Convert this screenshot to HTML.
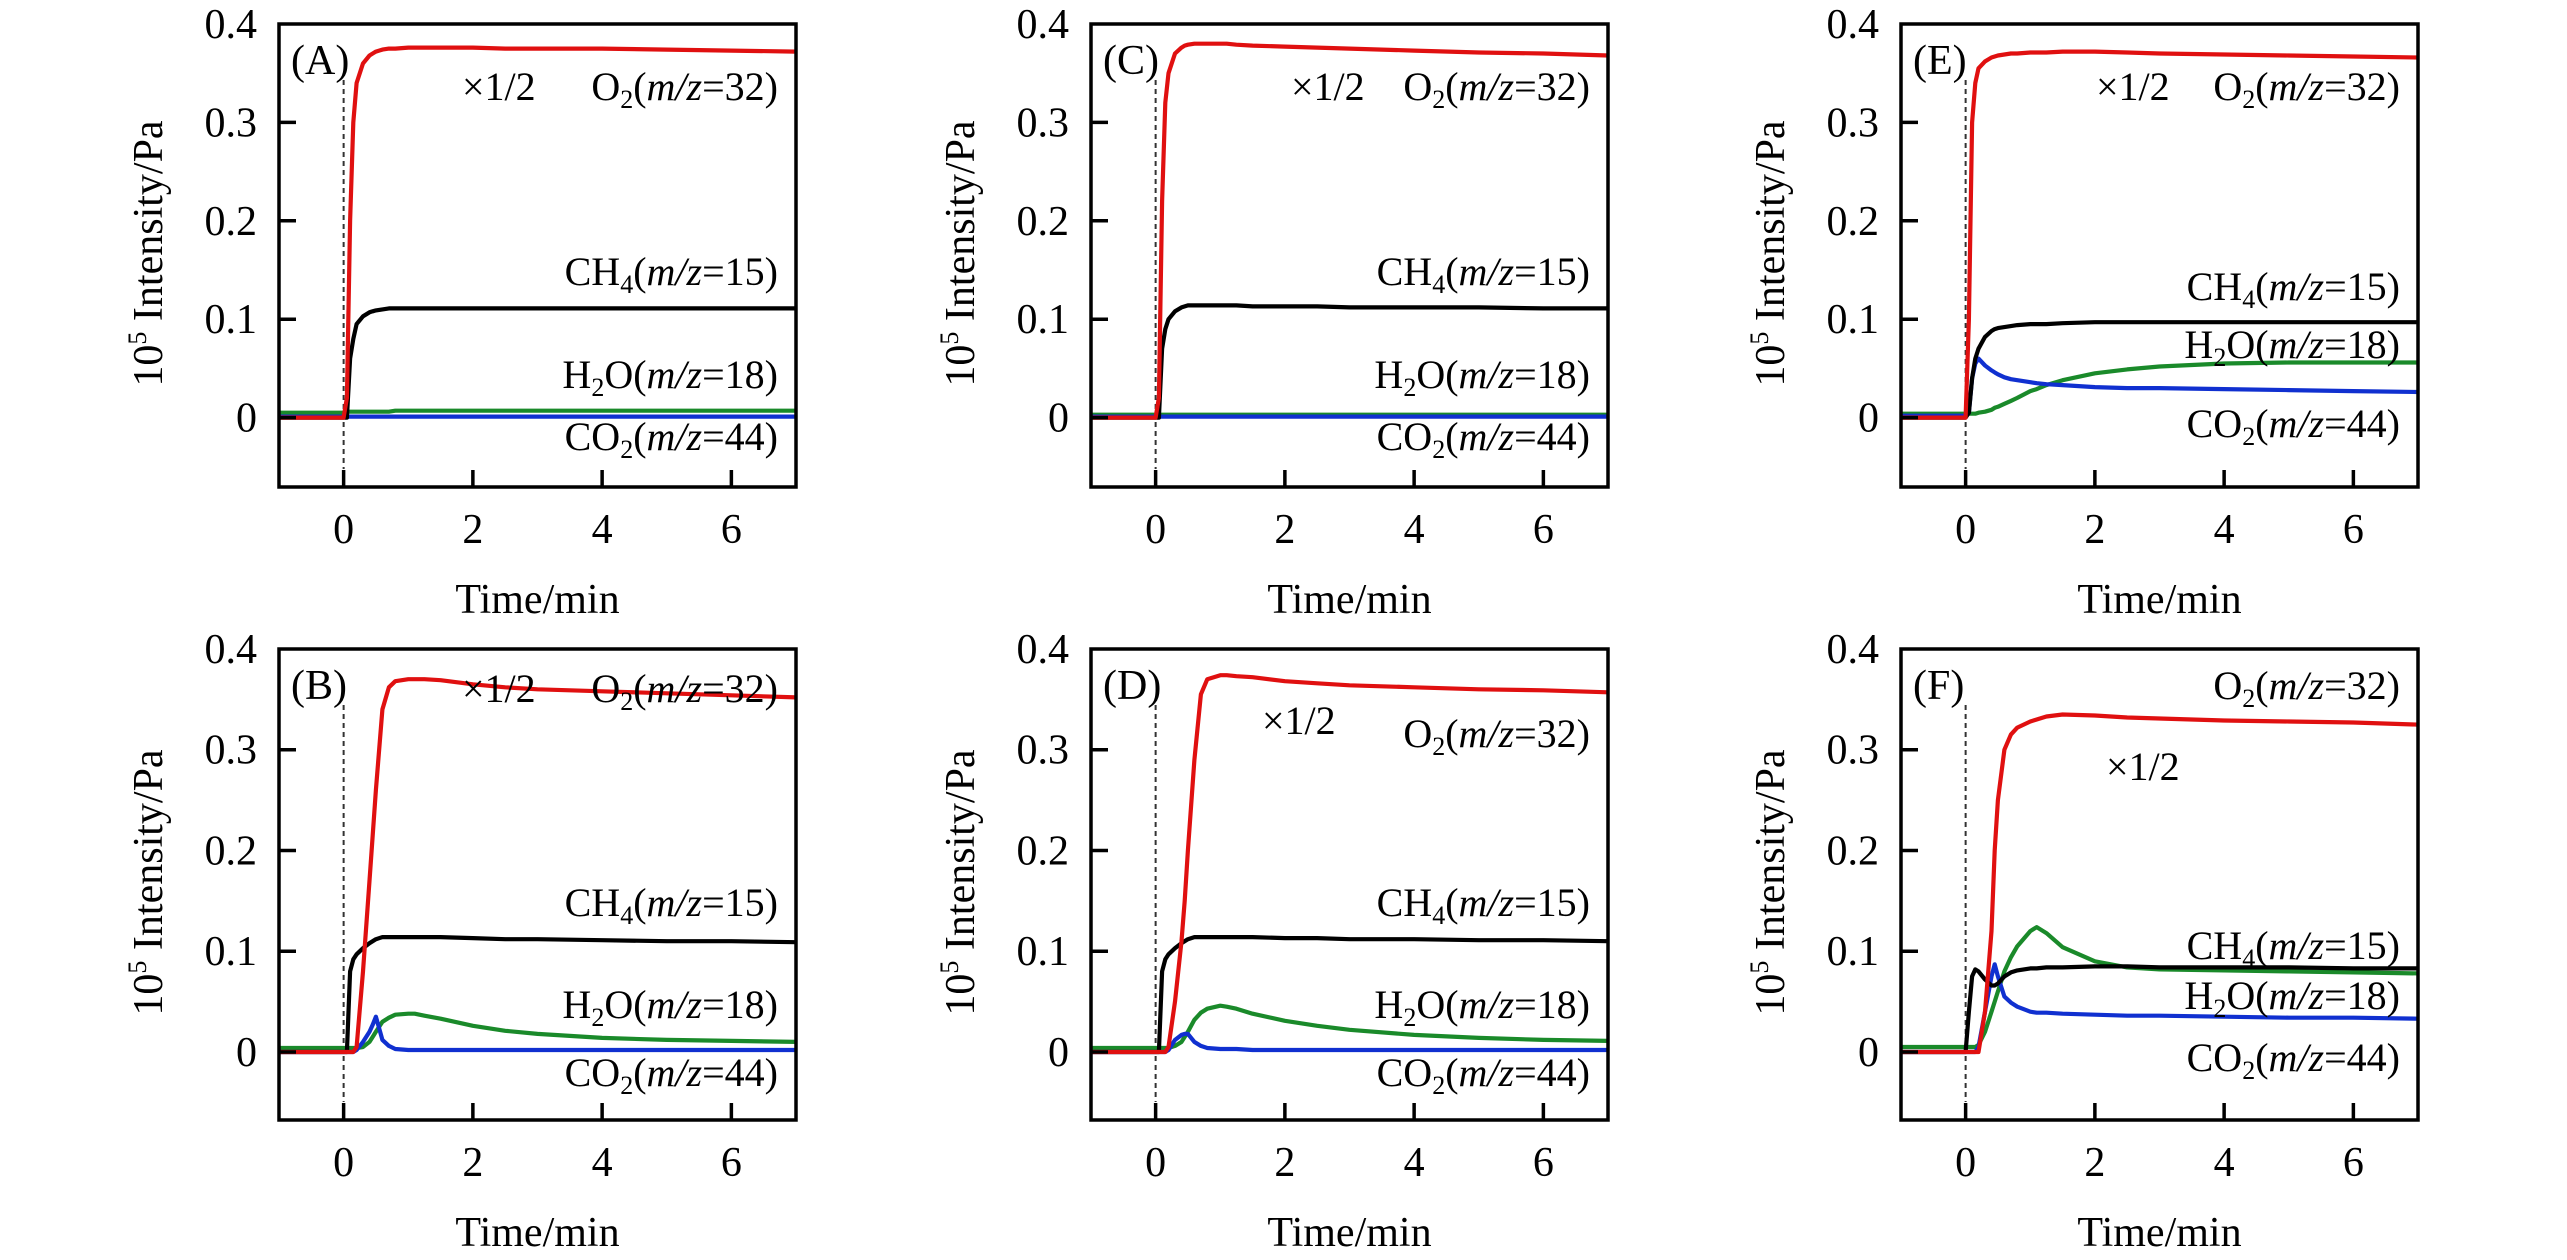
<!DOCTYPE html>
<html><head><meta charset="utf-8"><style>
html,body{margin:0;padding:0;background:#fff;}
svg{display:block;font-family:"Liberation Serif","Times New Roman",serif;}
</style></head><body>
<svg id="chart" width="2567" height="1260" viewBox="0 0 2567 1260" xmlns="http://www.w3.org/2000/svg"></svg>
<script>
// ---- data ----
const times = [-1,0,0.05,0.1,0.15,0.2,0.3,0.4,0.45,0.5,0.6,0.7,0.8,1,1.1,1.25,1.5,2,2.5,3,4,5,6,7];
const xTicks = [0,2,4,6];
const yTicks = [0,0.1,0.2,0.3,0.4];
const yTickLabels = ["0","0.1","0.2","0.3","0.4"];
const panelLetters = ["A","C","E","B","D","F"];

const A_O2  = [0,0,0.02,0.2,0.3,0.34,0.36,0.368,0.37,0.372,0.374,0.375,0.375,0.376,0.376,0.376,0.376,0.376,0.375,0.375,0.375,0.374,0.373,0.372];
const A_CH4 = [0,0,0,0.06,0.08,0.095,0.103,0.107,0.108,0.109,0.11,0.111,0.111,0.111,0.111,0.111,0.111,0.111,0.111,0.111,0.111,0.111,0.111,0.111];
const A_H2O = [0.005,0.005,0.006,0.006,0.006,0.006,0.006,0.006,0.006,0.006,0.006,0.006,0.007,0.007,0.007,0.007,0.007,0.007,0.007,0.007,0.007,0.007,0.007,0.007];
const A_CO2 = [0.001,0.001,0.001,0.001,0.001,0.001,0.001,0.001,0.001,0.001,0.001,0.001,0.001,0.001,0.001,0.001,0.001,0.001,0.001,0.001,0.001,0.001,0.001,0.001];

const C_O2  = [0,0,0.02,0.22,0.32,0.35,0.37,0.376,0.378,0.379,0.38,0.38,0.38,0.38,0.38,0.379,0.378,0.377,0.376,0.375,0.373,0.371,0.37,0.368];
const C_CH4 = [0,0,0,0.07,0.09,0.1,0.108,0.112,0.113,0.114,0.114,0.114,0.114,0.114,0.114,0.114,0.113,0.113,0.113,0.112,0.112,0.112,0.111,0.111];
const C_H2O = [0.003,0.003,0.003,0.003,0.003,0.003,0.003,0.003,0.003,0.003,0.003,0.003,0.003,0.003,0.003,0.003,0.003,0.003,0.003,0.003,0.003,0.003,0.003,0.003];
const C_CO2 = [0.001,0.001,0.001,0.001,0.001,0.001,0.001,0.001,0.001,0.001,0.001,0.001,0.001,0.001,0.001,0.001,0.001,0.001,0.001,0.001,0.001,0.001,0.001,0.001];

const E_O2  = [0,0,0.1,0.3,0.34,0.355,0.362,0.366,0.367,0.368,0.369,0.37,0.37,0.371,0.371,0.371,0.372,0.372,0.371,0.37,0.369,0.368,0.367,0.366];
const E_CH4 = [0,0,0.005,0.04,0.06,0.07,0.082,0.088,0.09,0.091,0.092,0.093,0.094,0.095,0.095,0.095,0.096,0.097,0.097,0.097,0.097,0.097,0.097,0.097];
const E_H2O = [0.004,0.004,0.004,0.004,0.004,0.005,0.006,0.008,0.01,0.011,0.014,0.017,0.02,0.027,0.029,0.033,0.038,0.045,0.049,0.052,0.055,0.056,0.056,0.056];
const E_CO2 = [0.002,0.002,0.005,0.04,0.055,0.06,0.053,0.048,0.046,0.044,0.041,0.039,0.038,0.036,0.035,0.034,0.033,0.031,0.03,0.03,0.029,0.028,0.027,0.026];

const B_O2  = [0,0,0,0,0,0.005,0.08,0.17,0.215,0.26,0.34,0.362,0.368,0.37,0.37,0.37,0.369,0.365,0.362,0.36,0.358,0.356,0.354,0.352];
const B_CH4 = [0,0,0,0.08,0.092,0.097,0.103,0.108,0.11,0.112,0.114,0.114,0.114,0.114,0.114,0.114,0.114,0.113,0.112,0.112,0.111,0.11,0.11,0.109];
const B_H2O = [0.004,0.004,0.004,0.004,0.004,0.004,0.005,0.01,0.015,0.02,0.03,0.034,0.037,0.038,0.038,0.036,0.033,0.026,0.021,0.018,0.014,0.012,0.011,0.01];
const B_CO2 = [0,0,0,0,0,0.002,0.01,0.02,0.027,0.035,0.012,0.006,0.003,0.002,0.002,0.002,0.002,0.002,0.002,0.002,0.002,0.002,0.002,0.002];

const D_O2  = [0,0,0,0,0,0.005,0.05,0.11,0.15,0.2,0.29,0.355,0.37,0.374,0.374,0.373,0.372,0.368,0.366,0.364,0.362,0.36,0.359,0.357];
const D_CH4 = [0,0,0,0.08,0.092,0.097,0.103,0.108,0.11,0.112,0.114,0.114,0.114,0.114,0.114,0.114,0.114,0.113,0.113,0.112,0.112,0.111,0.111,0.11];
const D_H2O = [0.004,0.004,0.004,0.004,0.004,0.004,0.006,0.01,0.015,0.02,0.032,0.039,0.043,0.046,0.045,0.043,0.038,0.031,0.026,0.022,0.017,0.014,0.012,0.011];
const D_CO2 = [0,0,0,0,0,0.002,0.012,0.017,0.018,0.018,0.01,0.006,0.004,0.003,0.003,0.003,0.002,0.002,0.002,0.002,0.002,0.002,0.002,0.002];

const F_O2  = [0,0,0,0,0,0,0.04,0.12,0.2,0.25,0.3,0.315,0.322,0.328,0.33,0.333,0.335,0.334,0.332,0.331,0.329,0.328,0.327,0.325];
const F_CH4 = [0,0,0.04,0.075,0.082,0.08,0.072,0.066,0.066,0.068,0.075,0.079,0.081,0.083,0.083,0.084,0.084,0.085,0.085,0.084,0.084,0.084,0.083,0.083];
const F_H2O = [0.005,0.005,0.005,0.005,0.005,0.007,0.02,0.04,0.05,0.06,0.08,0.094,0.105,0.12,0.124,0.118,0.104,0.09,0.084,0.082,0.081,0.08,0.079,0.078];
const F_CO2 = [0,0,0,0,0,0.005,0.04,0.075,0.087,0.075,0.055,0.049,0.045,0.04,0.039,0.039,0.038,0.037,0.036,0.036,0.035,0.034,0.034,0.033];

// ---- layout ----
const NS = "http://www.w3.org/2000/svg";
const svg = document.getElementById('chart');
const colLeft = [279, 1091, 1901];
const rowTop = [24, 649];
const rowH = [463, 471];
const rowYB = [-0.0705, -0.0675];
const W = 517, X0 = -1, X1 = 7, YT = 0.4;
const FS = 40;

const panels = [
  {L:"A", c:0, r:0, s:[A_H2O,A_CO2,A_CH4,A_O2], lab:{o2:100, half:[183,100], ch4:285, h2o:388, co2:450}},
  {L:"C", c:1, r:0, s:[C_H2O,C_CO2,C_CH4,C_O2], lab:{o2:100, half:[200,100], ch4:285, h2o:388, co2:450}},
  {L:"E", c:2, r:0, s:[E_H2O,E_CO2,E_CH4,E_O2], lab:{o2:100, half:[195,100], ch4:300, h2o:358, co2:437}},
  {L:"B", c:0, r:1, s:[B_H2O,B_CO2,B_CH4,B_O2], lab:{o2:77, half:[183,77], ch4:291, h2o:393, co2:461}},
  {L:"D", c:1, r:1, s:[D_H2O,D_CO2,D_CH4,D_O2], lab:{o2:122, half:[171,109], ch4:291, h2o:393, co2:461}},
  {L:"F", c:2, r:1, s:[F_H2O,F_CO2,F_CH4,F_O2], lab:{o2:74, half:[205,155], ch4:334, h2o:384, co2:446}}
];
const colors = ["#1a8a2a","#1030d0","#000000","#e01010"];
const seriesNames = ["h2o","co2","ch4","o2"];

function mk(tag, attrs, parent){
  const e = document.createElementNS(NS, tag);
  for (const k in attrs) e.setAttribute(k, attrs[k]);
  (parent||svg).appendChild(e);
  return e;
}
function richText(parent, x, y, anchor, parts){
  const t = mk('text', {x:x, y:y, 'text-anchor':anchor, 'font-size':FS, fill:'#000'}, parent);
  parts.forEach(p=>{
    const s = document.createElementNS(NS,'tspan');
    s.textContent = p.t;
    if (p.i) s.setAttribute('font-style','italic');
    if (p.sz) s.setAttribute('font-size', p.sz);
    if (p.dy) s.setAttribute('dy', p.dy);
    t.appendChild(s);
  });
  return t;
}
function species(pre, sub, post, num){
  return [{t:pre},{t:sub, sz:26, dy:8},{t:post+"(", dy:-8},{t:"m/z", i:true},{t:"="+num+")"}];
}

panels.forEach(p=>{
  const left = colLeft[p.c], top = rowTop[p.r], H = rowH[p.r], YB = rowYB[p.r];
  const g = mk('g', {});
  
  
  const sx = v => left + (v - X0) / (X1 - X0) * W;
  const sy = v => top + (YT - v) / (YT - YB) * H;
  const clipId = 'clip' + p.L;
  const cp = mk('clipPath', {id: clipId}, g);
  mk('rect', {x:left, y:top, width:W, height:H}, cp);

  const dl = mk('line', {x1:sx(0), x2:sx(0), y1:top+56, y2:top+H-18, stroke:'#333', 'stroke-width':2, 'stroke-dasharray':'5,4'}, g);
  
  

  const sg = mk('g', {'clip-path':'url(#'+clipId+')'}, g);
  p.s.forEach((vals, i)=>{
    const d = vals.map((v,k)=>(k?'L':'M')+sx(times[k]).toFixed(1)+','+sy(v).toFixed(1)).join(' ');
    const path = mk('path', {d:d, fill:'none', stroke:colors[i], 'stroke-width':4.2, 'stroke-linejoin':'round'}, sg);
    
    
  });

  const fr = mk('rect', {x:left, y:top, width:W, height:H, fill:'none', stroke:'#000', 'stroke-width':3.5}, g);
  
  

  yTicks.forEach((v,k)=>{
    if (v < YT) mk('line', {x1:left, x2:left+17, y1:sy(v), y2:sy(v), stroke:'#000', 'stroke-width':3.5}, g);
    const tl = mk('text', {x:left-22, y:sy(v)+14, 'text-anchor':'end', 'font-size':42}, g);
    tl.textContent = yTickLabels[k];
    
    
  });
  xTicks.forEach(v=>{
    mk('line', {x1:sx(v), x2:sx(v), y1:top+H, y2:top+H-17, stroke:'#000', 'stroke-width':3.5}, g);
    const tl = mk('text', {x:sx(v), y:top+H+56, 'text-anchor':'middle', 'font-size':42}, g);
    tl.textContent = String(v);
    
    
  });
  const xt = mk('text', {x:left+W/2, y:top+H+126, 'text-anchor':'middle', 'font-size':42}, g);
  xt.textContent = 'Time/min';
  
  

  const yx = left-131, yy = top+H/2 - 2;
  const yt = mk('text', {x:yx, y:yy, 'text-anchor':'middle', 'font-size':42, transform:'rotate(-90 '+yx+' '+yy+')', dy:14}, g);
  
  
  const a1 = document.createElementNS(NS,'tspan'); a1.textContent='10'; yt.appendChild(a1);
  const a2 = document.createElementNS(NS,'tspan'); a2.textContent='5'; a2.setAttribute('font-size',26); a2.setAttribute('dy',-16); yt.appendChild(a2);
  const a3 = document.createElementNS(NS,'tspan'); a3.textContent=' Intensity/Pa'; a3.setAttribute('dy',16); yt.appendChild(a3);

  const pl = mk('text', {x:left+12, y:top+50, 'font-size':42}, g);
  pl.textContent = '(' + p.L + ')';
  
  

  const rx = left + W - 18;
  const lo = richText(g, rx, top + p.lab.o2 - 24, 'end', species("O","2","","32"));
  
  
  const lh = mk('text', {x:left+p.lab.half[0], y:top + p.lab.half[1] - 24, 'font-size':FS}, g);
  lh.textContent = '×1/2';
  
  
  const lc = richText(g, rx, top + p.lab.ch4 - 24, 'end', species("CH","4","","15"));
  
  
  const lw = richText(g, rx, top + p.lab.h2o - 24, 'end', species("H","2","O","18"));
  
  
  const lco = richText(g, rx, top + p.lab.co2 - 24, 'end', species("CO","2","","44"));
  
  
});
</script>
</body></html>
